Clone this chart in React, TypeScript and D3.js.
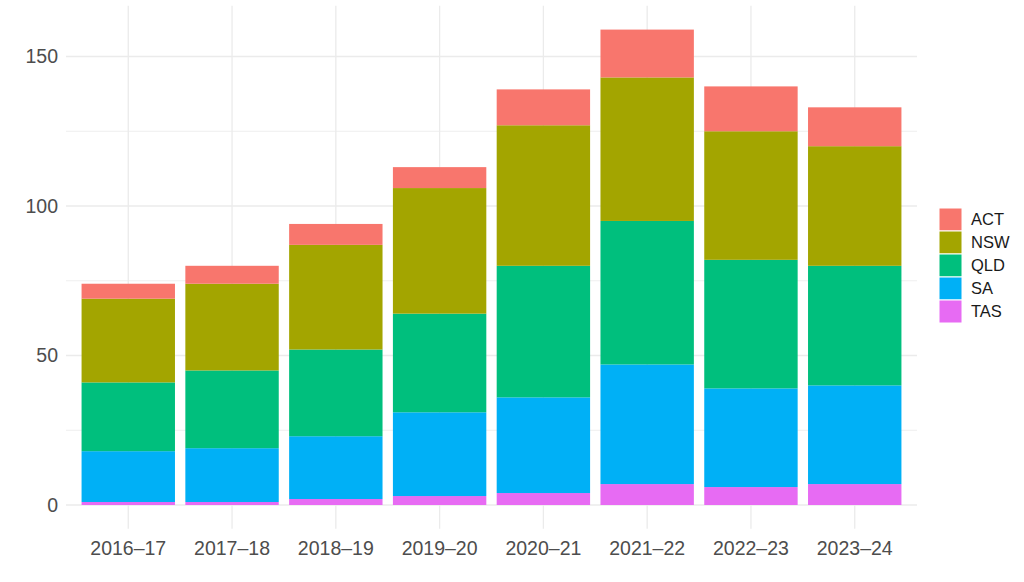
import React from "react";
import * as d3 from "d3";

const years = ["2016–17", "2017–18", "2018–19", "2019–20", "2020–21", "2021–22", "2022–23", "2023–24"];
const states = ["ACT", "NSW", "QLD", "SA", "TAS"];
const colors = ["#F8766D", "#A3A500", "#00BF7D", "#00B0F6", "#E76BF3"];

const ACT = [5, 6, 7, 7, 12, 16, 15, 13];
const NSW = [28, 29, 35, 42, 47, 48, 43, 40];
const QLD = [23, 26, 29, 33, 44, 48, 43, 40];
const SA = [17, 18, 21, 28, 32, 40, 33, 33];
const TAS = [1, 1, 2, 3, 4, 7, 6, 7];

const yTicks = [0, 50, 100, 150];
const yMinor = [25, 75, 125];

const W = 1024;
const H = 582;
const font = "'Liberation Sans', Arial, sans-serif";

export default function App() {
  const seriesVals: Record<string, number[]> = { ACT, NSW, QLD, SA, TAS };
  const rows = years.map((y, i) => {
    const r: any = { year: y };
    states.forEach((s) => (r[s] = seriesVals[s][i]));
    return r;
  });
  // bottom-to-top order: TAS, SA, QLD, NSW, ACT
  const stackKeys = [...states].reverse();
  const stacked = d3.stack().keys(stackKeys)(rows);
  const maxTotal = d3.max(rows, (r: any) => states.reduce((a, s) => a + r[s], 0)) as number;

  const panelLeft = 66;
  const panelRight = 917;
  const y0px = 505;
  const pxPerUnit = 2.99;
  const yDomMin = -maxTotal * 0.05;
  const yDomMax = maxTotal * 1.05;
  const y = d3
    .scaleLinear()
    .domain([yDomMin, yDomMax])
    .range([y0px - yDomMin * pxPerUnit, y0px - yDomMax * pxPerUnit]);

  // discrete scale with 0.6 expansion
  const n = years.length;
  const step = (panelRight - panelLeft) / (n - 1 + 1.2);
  const x = d3
    .scalePoint<string>()
    .domain(years)
    .range([panelLeft + 0.6 * step, panelRight - 0.6 * step]);
  const bw = step * 0.9;

  const panelTop = y(yDomMax);
  const panelBottom = y(yDomMin);
  const colorOf = d3.scaleOrdinal<string, string>().domain(states).range(colors);

  return (
    <svg width={W} height={H} style={{ position: "absolute", left: 0, top: 0, background: "#fff" }}>
      <g>
        {yMinor.map((t) => (
          <line key={"m" + t} x1={panelLeft} x2={panelRight} y1={y(t)} y2={y(t)} stroke="#EBEBEB" strokeWidth={0.8} />
        ))}
        {yTicks.map((t) => (
          <line key={"M" + t} x1={panelLeft} x2={panelRight} y1={y(t)} y2={y(t)} stroke="#EBEBEB" strokeWidth={1.3} />
        ))}
        {years.map((yr) => (
          <line key={"v" + yr} x1={x(yr)} x2={x(yr)} y1={panelTop} y2={panelBottom} stroke="#EBEBEB" strokeWidth={1.3} />
        ))}
      </g>
      <g>
        {stacked.map((layer) =>
          layer.map((d, i) => (
            <rect
              key={layer.key + i}
              x={(x(years[i]) as number) - bw / 2}
              width={bw}
              y={y(d[1])}
              height={y(d[0]) - y(d[1])}
              fill={colorOf(layer.key)}
            />
          ))
        )}
      </g>
      <g fontFamily={font} fill="#4D4D4D" fontSize={19.5}>
        {yTicks.map((t) => (
          <text key={"yt" + t} x={58} y={y(t)} dy="0.35em" textAnchor="end">
            {t}
          </text>
        ))}
        {years.map((yr) => (
          <text key={"xt" + yr} x={x(yr)} y={555} textAnchor="middle">
            {yr}
          </text>
        ))}
      </g>
      <g fontFamily={font} fontSize={16.5} fill="#1A1A1A">
        {states.map((s, i) => (
          <g key={"lg" + s} transform={`translate(939, ${208 + i * 23})`}>
            <rect x={0} y={0} width={23} height={23} fill={colorOf(s)} stroke="#fff" strokeWidth={1} />
            <text x={32} y={11.5} dy="0.36em">
              {s}
            </text>
          </g>
        ))}
      </g>
    </svg>
  );
}
